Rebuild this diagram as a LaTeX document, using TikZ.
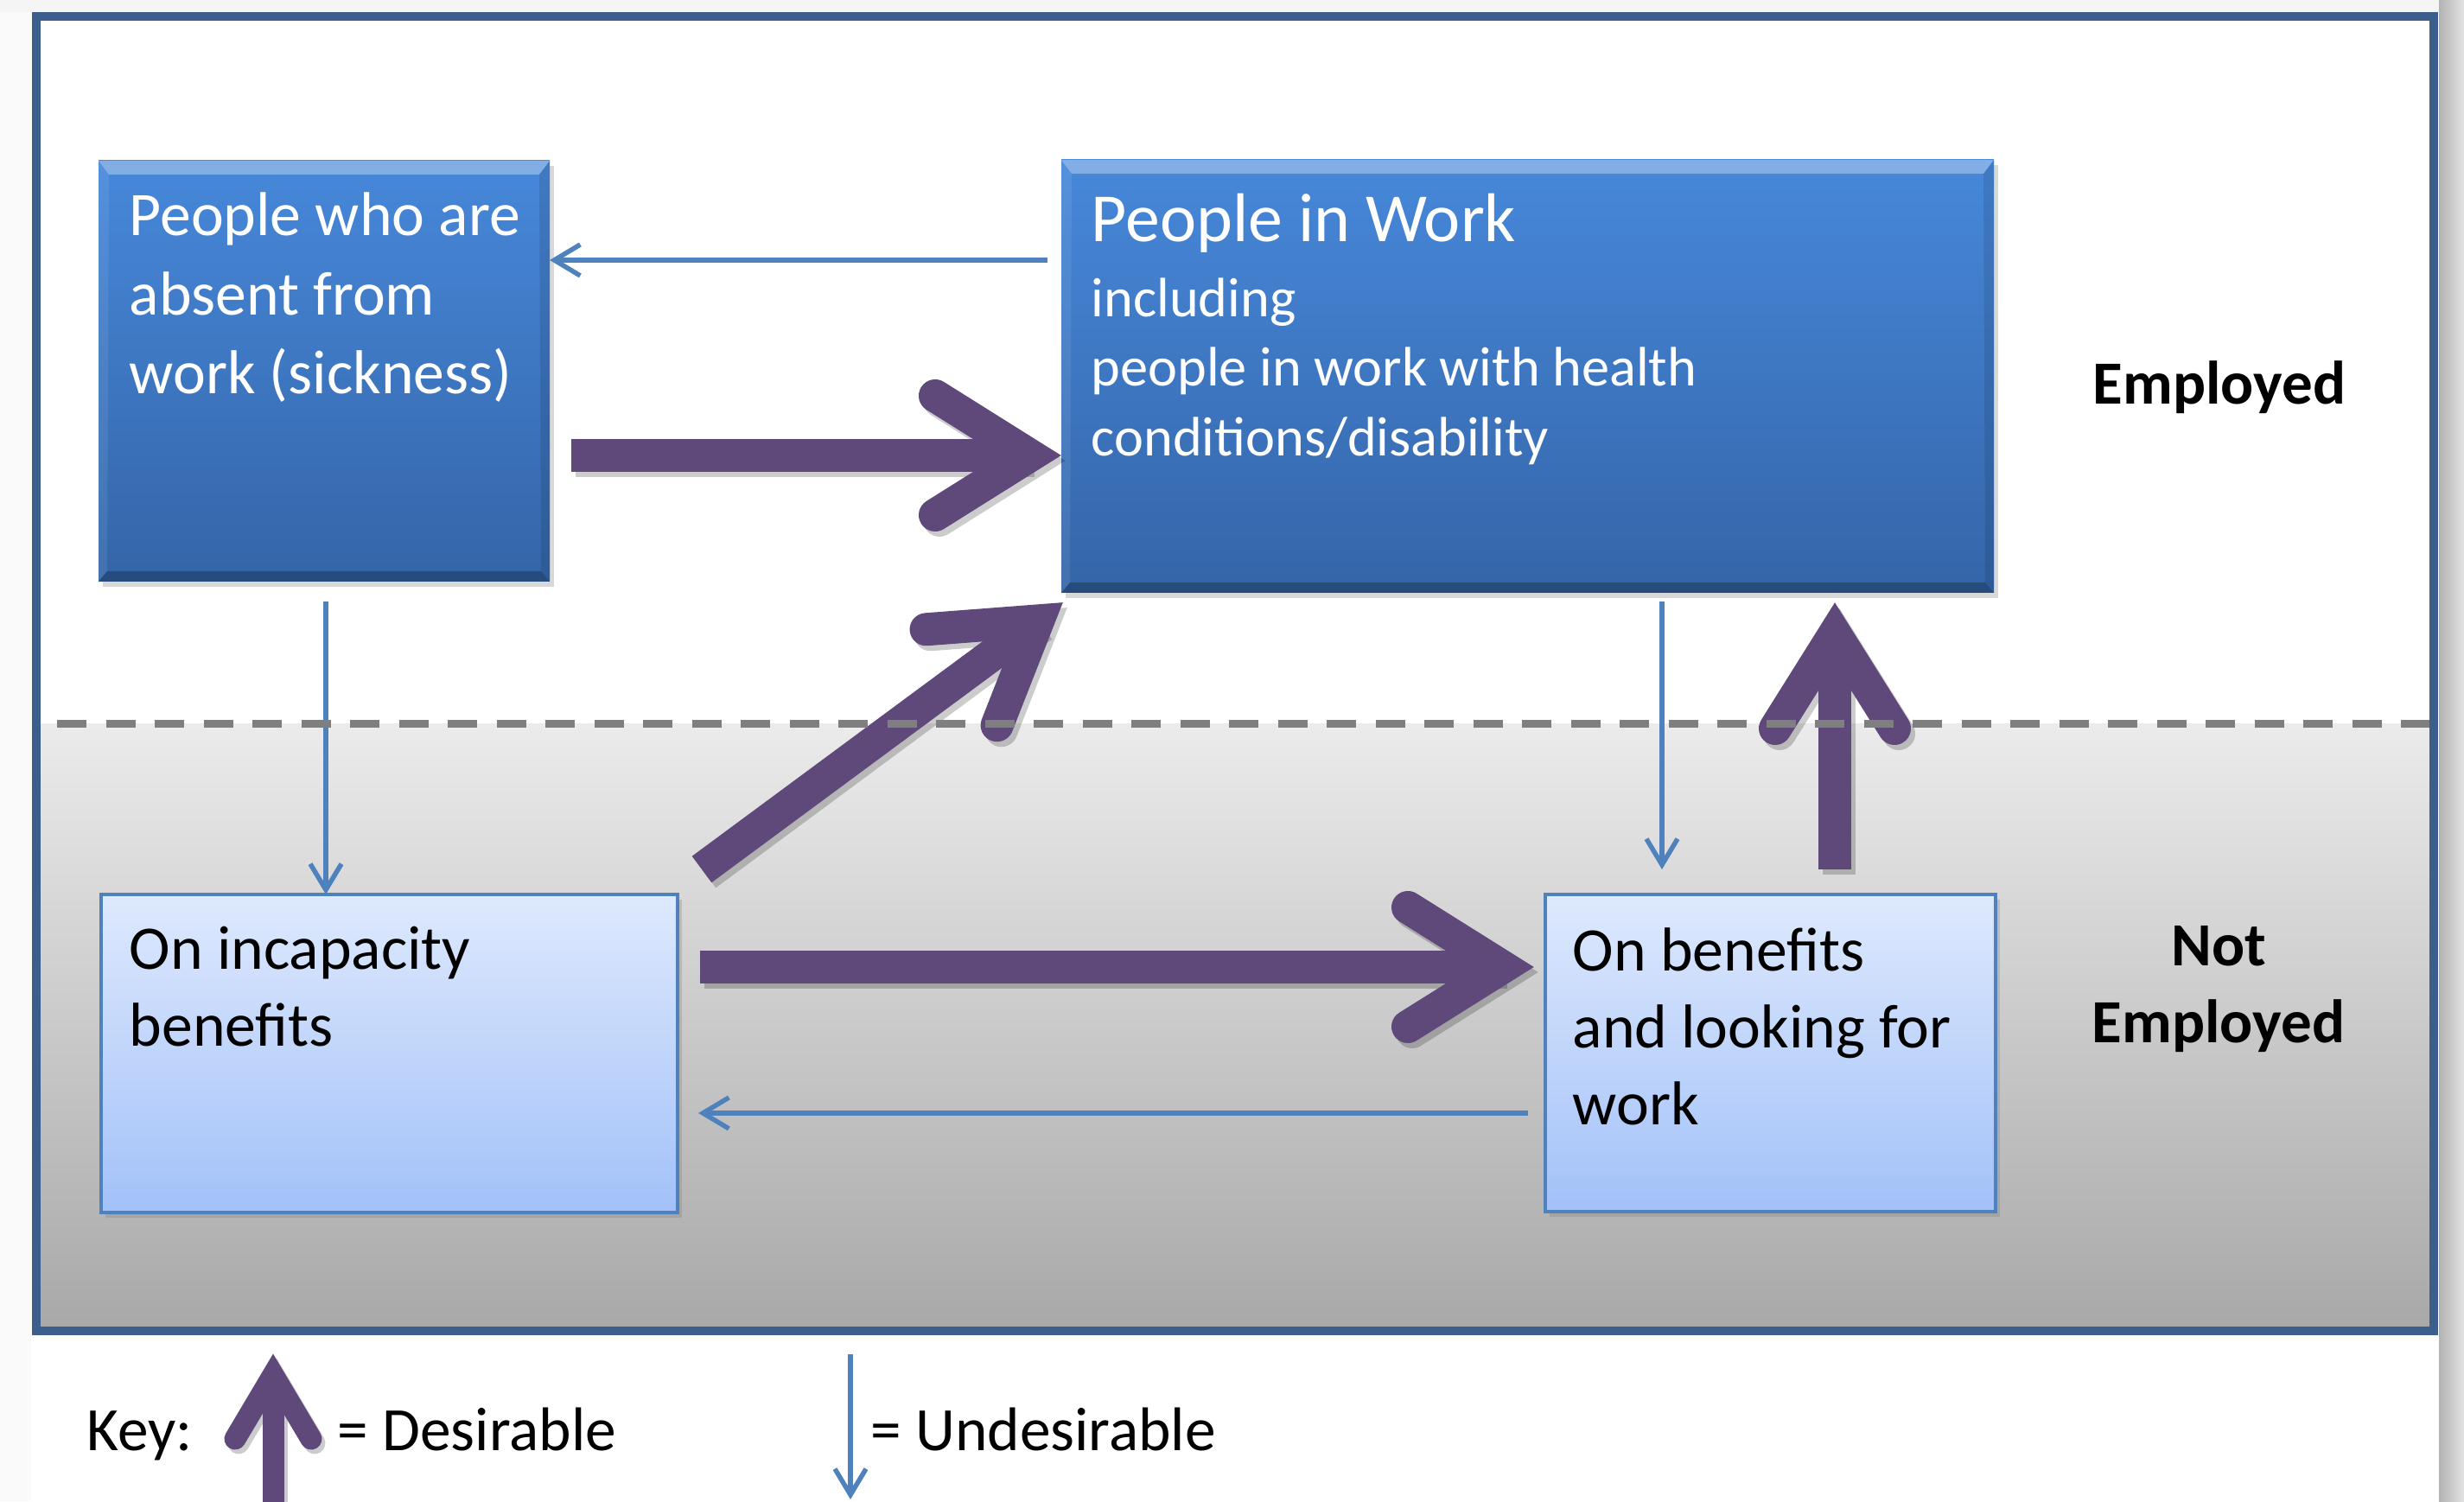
\documentclass[tikz,border=0pt]{standalone}
\usepackage{fontspec}
\setmainfont{Carlito}
\usetikzlibrary{calc,shadows,arrows.meta}

\definecolor{framecol}{HTML}{3B5E8C}
\definecolor{undescol}{HTML}{4F81BD}
\definecolor{descol}{HTML}{5F497A}
\definecolor{darktop}{HTML}{4788DA}
\definecolor{darkbot}{HTML}{3465A8}
\definecolor{lighttop}{HTML}{DEE9FD}
\definecolor{lightbot}{HTML}{A2C1F9}
\definecolor{floortop}{HTML}{EBEBEB}
\definecolor{floorbot}{HTML}{A8A8A8}
\definecolor{divcol}{HTML}{7F7F7F}

\tikzset{
  darkbox/.style={rectangle, inner sep=0pt, outer sep=0pt, anchor=north west,
    top color=darktop, bottom color=darkbot,
    drop shadow={shadow xshift=0.05cm, shadow yshift=-0.06cm, opacity=0.3}},
  lightbox/.style={rectangle, inner sep=0pt, outer sep=0pt, anchor=north west,
    draw=undescol, line width=0.04cm, top color=lighttop, bottom color=lightbot,
    drop shadow={shadow xshift=0.05cm, shadow yshift=-0.06cm, opacity=0.3}},
  boxtext/.style={anchor=base west, inner sep=0pt, align=flush left,
    font=\fontsize{20.4}{25.9}\selectfont},
  sidelabel/.style={anchor=base, inner sep=0pt, align=center, text width=4cm,
    font=\bfseries\fontsize{20.2}{25.3}\selectfont},
  keytext/.style={anchor=base west, inner sep=0pt, font=\fontsize{20.3}{24}\selectfont},
  undes/.style={draw=undescol, line width=0.055cm,
    -{Straight Barb[length=0.3cm, width=0.36cm]}},
  fatline/.style={draw=descol},
  divline/.style={draw=divcol, line width=0.09cm, dash pattern=on 0.34cm off 0.225cm},
}

% thick open-headed flow: width, miter offset, arm back, arm half spread, start, tip
\newcommand\desflow[6]{%
  \draw[fatline, line width=#1] (#5) -- ($(#6)!#2!(#5)$);
  \draw[fatline, line width=#1, line cap=round, line join=miter]
    ($(#6)!#3!(#5)!#4!90:(#6)$) -- ($(#6)!#2!(#5)$) -- ($(#6)!#3!(#5)!#4!-90:(#6)$);
}

% bevelled edges on the dark boxes
\newcommand\bevel[1]{%
  \fill[white, opacity=0.32] (#1.north west) -- (#1.north east)
    -- ([shift={(-0.12,-0.16)}]#1.north east) -- ([shift={(0.12,-0.16)}]#1.north west) -- cycle;
  \fill[white, opacity=0.08] (#1.north west) -- ([shift={(0.12,-0.16)}]#1.north west)
    -- ([shift={(0.1,0.12)}]#1.south west) -- (#1.south west) -- cycle;
  \fill[black, opacity=0.1] (#1.north east) -- ([shift={(-0.12,-0.16)}]#1.north east)
    -- ([shift={(-0.1,0.12)}]#1.south east) -- (#1.south east) -- cycle;
  \fill[black, opacity=0.25] (#1.south west) -- (#1.south east)
    -- ([shift={(-0.1,0.12)}]#1.south east) -- ([shift={(0.1,0.12)}]#1.south west) -- cycle;
}

\begin{document}
\begin{tikzpicture}
\useasboundingbox (0,0) rectangle (28.51,17.37);
\clip (0,0) rectangle (28.51,17.37);
\fill[white] (0,0) rectangle (28.51,17.37);

% page edge shading
\fill[gray!8] (0,17.23) rectangle (28.22,17.37);
\fill[gray!4] (0,0) rectangle (0.36,17.23);
\shade[left color=gray!60, right color=gray!22] (28.22,0) rectangle (28.51,17.37);

% lower (not employed) band and outer frame
\shade[top color=floortop, bottom color=floorbot] (0.42,1.97) rectangle (28.16,8.99);
\draw[framecol, line width=0.1cm] (0.42,1.97) rectangle (28.16,17.18);

% boxes
\node[darkbox, minimum width=5.22cm, minimum height=4.87cm] (lbox) at (1.14,15.51) {};
\node[darkbox, minimum width=10.79cm, minimum height=5.01cm] (wbox) at (12.28,15.52) {};
\node[lightbox, minimum width=6.67cm, minimum height=3.68cm] (ibox) at (1.17,7.02) {};
\node[lightbox, minimum width=5.21cm, minimum height=3.67cm] (bbox) at (17.88,7.02) {};
\bevel{lbox}
\bevel{wbox}

% box texts
\node[boxtext, text=white, text width=4.9cm] (ltext) at (1.49,14.64)
  {People who are\\absent from\\work (sickness)};
\node[boxtext, text=white, text width=10cm, font=\fontsize{18.3}{22.9}\selectfont] (wtext) at (12.62,14.57)
  {{\fontsize{22.7}{24.5}\selectfont People in Work}\\[1.6pt]including\\people in work with health\\conditions/disability};
\node[boxtext, text width=6cm, font=\fontsize{20.4}{25.3}\selectfont] (itext) at (1.49,6.15)
  {On incapacity\\benefits};
\node[boxtext, text width=4.8cm, font=\fontsize{20.4}{25.3}\selectfont] (btext) at (18.19,6.13)
  {On benefits\\and looking for\\work};

% side labels
\node[sidelabel] (emp) at (25.68,12.69) {Employed};
\node[sidelabel] (nemp) at (25.67,6.19) {Not\\Employed};

% undesirable flows
\coordinate (ua) at (12.12,14.36);
\coordinate (ub) at (3.77,10.41);
\coordinate (uc) at (17.68,4.49);
\coordinate (ud) at (19.23,10.41);
\draw[undes] (ua) -- (lbox.east |- ua);
\draw[undes] (ub) -- (ub |- ibox.north);
\draw[undes] (uc) -- ([xshift=0.24cm]ibox.east |- uc);
\draw[undes] (ud) -- ([yshift=0.29cm]ud |- bbox.north);

% desirable flows
\coordinate (de-s) at (6.61,12.10);
\coordinate (de-t) at (wbox.west |- de-s);
\coordinate (df-s) at (8.12,7.31);
\coordinate (df-t) at (12.30,10.40);
\coordinate (dg-s) at (21.23,7.31);
\coordinate (dg-t) at (21.23,10.40);
\coordinate (dh-s) at (8.10,6.18);
\coordinate (dh-t) at (17.75,6.18);

\begin{scope}[transform canvas={xshift=0.05cm, yshift=-0.06cm},
              fatline/.style={draw=black, draw opacity=0.2}]
  \desflow{0.38cm}{0.36cm}{1.46cm}{0.69cm}{de-s}{de-t}
  \desflow{0.38cm}{0.36cm}{1.46cm}{0.69cm}{df-s}{df-t}
  \desflow{0.38cm}{0.36cm}{1.46cm}{0.69cm}{dg-s}{dg-t}
  \desflow{0.38cm}{0.36cm}{1.46cm}{0.69cm}{dh-s}{dh-t}
\end{scope}
\desflow{0.38cm}{0.36cm}{1.46cm}{0.69cm}{de-s}{de-t}
\desflow{0.38cm}{0.36cm}{1.46cm}{0.69cm}{df-s}{df-t}
\desflow{0.38cm}{0.36cm}{1.46cm}{0.69cm}{dg-s}{dg-t}
\desflow{0.38cm}{0.36cm}{1.46cm}{0.69cm}{dh-s}{dh-t}

% employed / not employed divide
\draw[divline] (0.66,8.99) -- (28.11,8.99);

% key
\node[keytext] (key) at (1.00,0.59) {Key:};
\node[keytext] (kdes) at (3.90,0.59) {= Desirable};
\node[keytext] (kundes) at (10.07,0.59) {= Undesirable};
\coordinate (kd-s) at (3.16,-0.1);
\coordinate (kd-t) at (3.16,1.70);
\coordinate (ku-s) at (9.84,1.70);
\coordinate (ku-t) at (9.84,0.02);
\begin{scope}[transform canvas={xshift=0.04cm, yshift=-0.05cm},
              fatline/.style={draw=black, draw opacity=0.2}]
  \desflow{0.25cm}{0.24cm}{0.98cm}{0.44cm}{kd-s}{kd-t}
\end{scope}
\desflow{0.25cm}{0.24cm}{0.98cm}{0.44cm}{kd-s}{kd-t}
\draw[undes] (ku-s) -- (ku-t);
\end{tikzpicture}
\end{document}
